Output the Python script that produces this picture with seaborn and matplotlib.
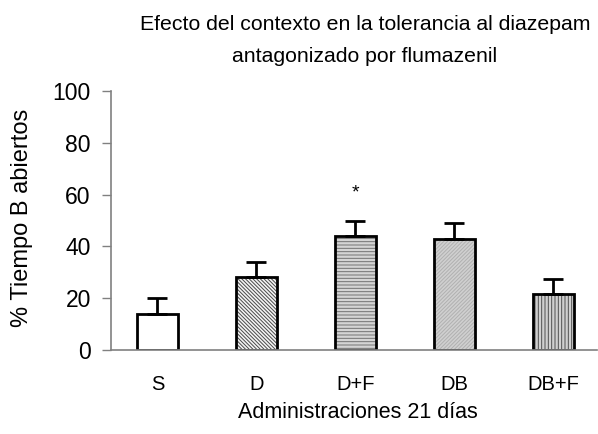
import matplotlib
matplotlib.use("Agg")
import matplotlib.pyplot as plt
import seaborn as sns
import pandas as pd

# Datos: % de tiempo en brazos abiertos (media y error estándar)
grupos = ["S", "D", "D+F", "DB", "DB+F"]
medias = [14, 28, 44, 43, 21.5]
errores = [6, 6, 6, 6, 6]
significativo = ["", "", "*", "", ""]

# Relleno de cada barra: color de fondo, trama y color de la trama
colores = ["white", "#f4f4f4", "#d4d4d4", "#d0d0d0", "#d0d0d0"]
tramas = ["", "\\" * 9, "-" * 5, "/" * 9, "|" * 5]
color_trama = ["black", "#4a4a4a", "#727272", "#b0b0b0", "#505050"]

sns.set_theme(style="white")
plt.rcParams["font.family"] = ["Liberation Sans", "DejaVu Sans"]
plt.rcParams["hatch.linewidth"] = 0.7
plt.rcParams["text.color"] = "black"
plt.rcParams["xtick.labelcolor"] = "black"
plt.rcParams["ytick.labelcolor"] = "black"

df = pd.DataFrame({"grupo": grupos, "media": medias})

fig = plt.figure(figsize=(5.98, 4.34), dpi=100)
ax = fig.add_axes([0.1856, 0.1935, 0.8124, 0.5968])

sns.barplot(data=df, x="grupo", y="media", order=grupos, width=0.41,
            color="white", edgecolor="black", linewidth=2.0, ax=ax, errorbar=None)

for p, fc, h, hc in zip(ax.patches, colores, tramas, color_trama):
    p.set_edgecolor("black")
    p.set_facecolor(fc)
    p.set_hatch(h)
    p._hatch_color = matplotlib.colors.to_rgba(hc)

ax.errorbar(range(len(grupos)), medias, yerr=[[0] * len(grupos), errores],
            fmt="none", ecolor="black", elinewidth=2.0, capsize=7.5, capthick=2.0,
            zorder=3)

for i, (m, e, s) in enumerate(zip(medias, errores, significativo)):
    if s:
        ax.text(i, m + e + 10.5, s, ha="center", va="center", fontsize=14, color="black")

ax.set_xlim(-0.47, 4.44)
ax.set_ylim(0, 100)
ax.set_yticks([0, 20, 40, 60, 80, 100])
ax.tick_params(axis="y", length=6.5, width=1, color="#808080", labelsize=16.5, pad=8,
               left=True, labelcolor="black")
ax.tick_params(axis="x", length=0, labelsize=14.5, pad=18, labelcolor="black")

for side in ["top", "right"]:
    ax.spines[side].set_visible(False)
for side in ["left", "bottom"]:
    ax.spines[side].set_color("#808080")
    ax.spines[side].set_linewidth(1.2)

ax.set_xlabel("")
ax.set_ylabel("")
fig.text(358 / 598, 1 - 412 / 434, "Administraciones 21 días", ha="center", va="center",
         fontsize=15.5)
fig.text(22 / 598, 1 - 218 / 434, "% Tiempo B abiertos",
         ha="center", va="center", rotation=90, fontsize=17)

fig.text(365 / 598, 1 - 24 / 434, "Efecto del contexto en la tolerancia al diazepam",
         ha="center", va="center", fontsize=15.3)
fig.text(365 / 598, 1 - 57 / 434, "antagonizado por flumazenil",
         ha="center", va="center", fontsize=15.3)

fig.savefig("out.png", dpi=100)
